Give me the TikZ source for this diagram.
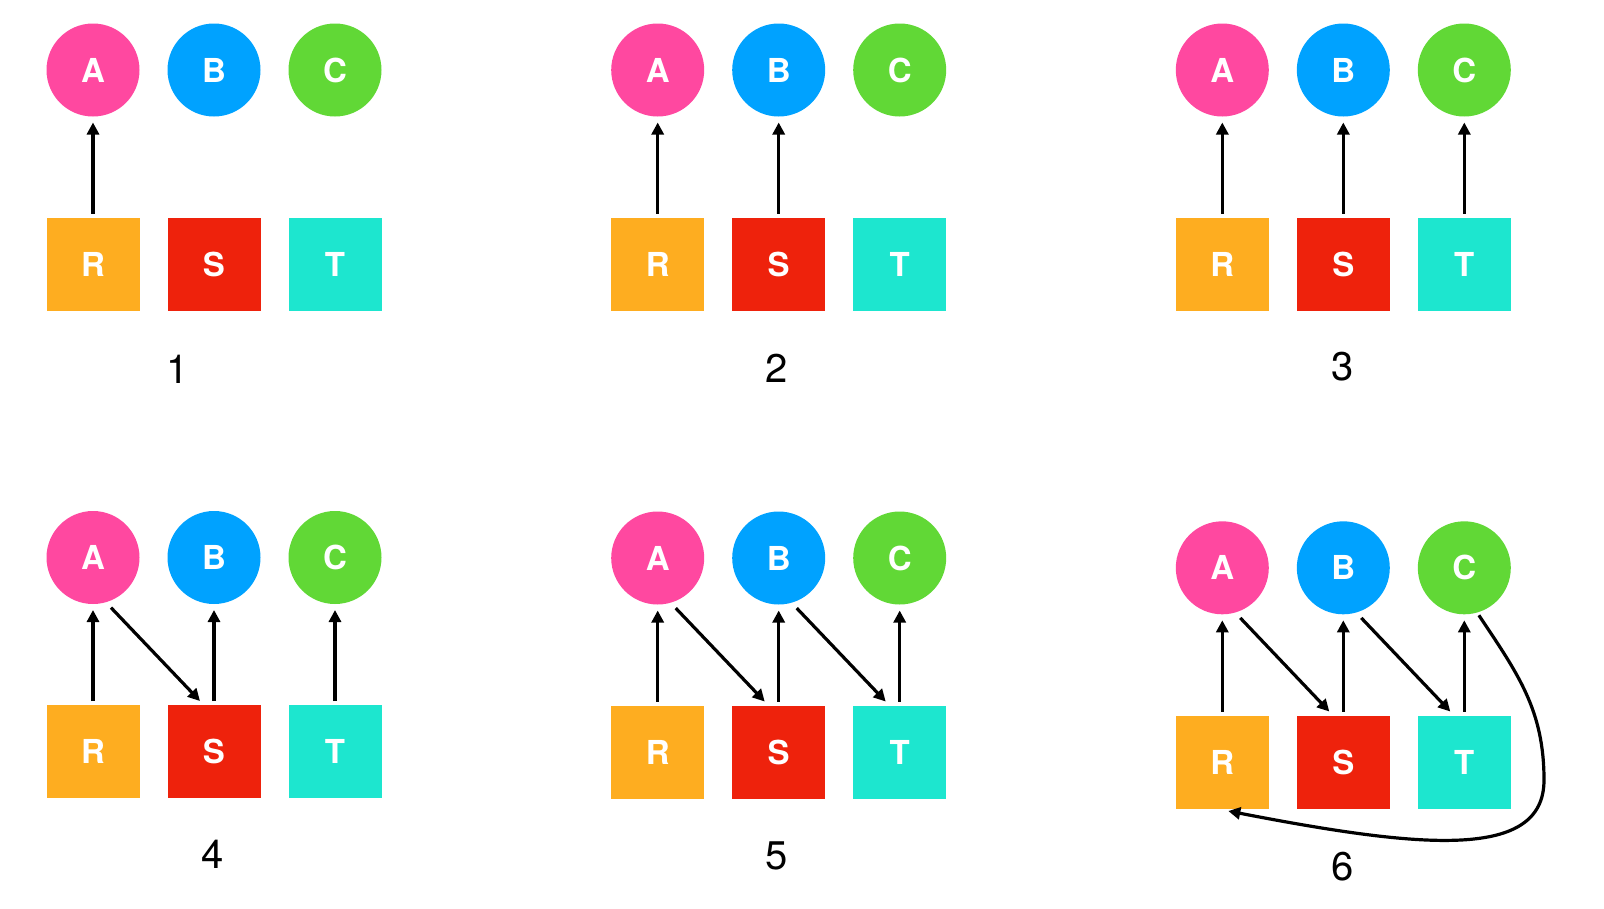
\documentclass[tikz,border=0pt]{standalone}
\usepackage{fontspec}
\setmainfont{TeX Gyre Heros}
\usetikzlibrary{arrows.meta}
\definecolor{cA}{RGB}{255,72,160}
\definecolor{cB}{RGB}{0,162,255}
\definecolor{cC}{RGB}{97,216,54}
\definecolor{cR}{RGB}{254,173,32}
\definecolor{cS}{RGB}{238,34,12}
\definecolor{cT}{RGB}{29,230,207}
\tikzset{
  circ/.style={circle,minimum size=93pt,inner sep=0pt,outer sep=0pt,text=white,font=\fontsize{33}{33}\selectfont\bfseries},
  sq/.style={rectangle,minimum size=93pt,inner sep=0pt,outer sep=0pt,text=white,font=\fontsize{33}{33}\selectfont\bfseries},
  lab/.style={inner sep=0pt,font=\fontsize{40}{40}\selectfont},
  arr/.style={line width=3.2pt,-{Triangle[length=12pt,width=12pt]}},
  up/.style={arr,shorten <=4pt,shorten >=6pt},
  diag/.style={arr,shorten <=7.5pt}
}
\newcommand{\panelnodes}[4]{%
  \node[circ,fill=cA] (A#1) at (#2,#3) {A};
  \node[circ,fill=cB] (B#1) at ({#2+121},#3) {B};
  \node[circ,fill=cC] (C#1) at ({#2+242},#3) {C};
  \node[sq,fill=cR] (R#1) at (#2,#4) {R};
  \node[sq,fill=cS] (S#1) at ({#2+121},#4) {S};
  \node[sq,fill=cT] (T#1) at ({#2+242},#4) {T};
}
\begin{document}
\begin{tikzpicture}[x=1pt,y=-1pt]
\useasboundingbox[fill=white] (0,0) rectangle (1604,908);
% panels
\panelnodes{1}{93}{70}{264.3}
\panelnodes{2}{657.7}{70}{264.3}
\panelnodes{3}{1222.3}{70}{264.3}
\panelnodes{4}{93}{557.5}{751.5}
\panelnodes{5}{657.7}{558}{752}
\panelnodes{6}{1222.3}{567.8}{762}
% labels
\node[lab] (L1) at (178,369) {1};
\node[lab] (L2) at (777,368) {2};
\node[lab] (L3) at (1342.7,367) {3};
\node[lab] (L4) at (213,854) {4};
\node[lab] (L5) at (777,856) {5};
\node[lab] (L6) at (1342.7,867) {6};
% panel 1
\draw[up] (R1) -- (A1);
% panel 2
\draw[up] (R2) -- (A2);
\draw[up] (S2) -- (B2);
% panel 3
\draw[up] (R3) -- (A3);
\draw[up] (S3) -- (B3);
\draw[up] (T3) -- (C3);
% panel 4
\draw[up] (R4) -- (A4);
\draw[up] (S4) -- (B4);
\draw[up] (T4) -- (C4);
\draw[diag] (A4.-74) -- ([xshift=-14pt,yshift=4pt]S4.north);
% panel 5
\draw[up] (R5) -- (A5);
\draw[up] (S5) -- (B5);
\draw[up] (T5) -- (C5);
\draw[diag] (A5.-74) -- ([xshift=-14pt,yshift=4pt]S5.north);
\draw[diag] (B5.-74) -- ([xshift=-14pt,yshift=4pt]T5.north);
% panel 6
\draw[up] (R6) -- (A6);
\draw[up] (S6) -- (B6);
\draw[up] (T6) -- (C6);
\draw[diag] (A6.-74) -- ([xshift=-14pt,yshift=4pt]S6.north);
\draw[diag] (B6.-74) -- ([xshift=-14pt,yshift=4pt]T6.north);
\coordinate (K6) at (1544,780);
\draw[arr] ([shift={(1pt,-3pt)}]C6.-73) .. controls (1518,674) and (1544,710) .. (K6)
  .. controls (1544,860) and (1424,849) .. ([shift={(6pt,-2.5pt)}]R6.south);
\end{tikzpicture}
\end{document}
